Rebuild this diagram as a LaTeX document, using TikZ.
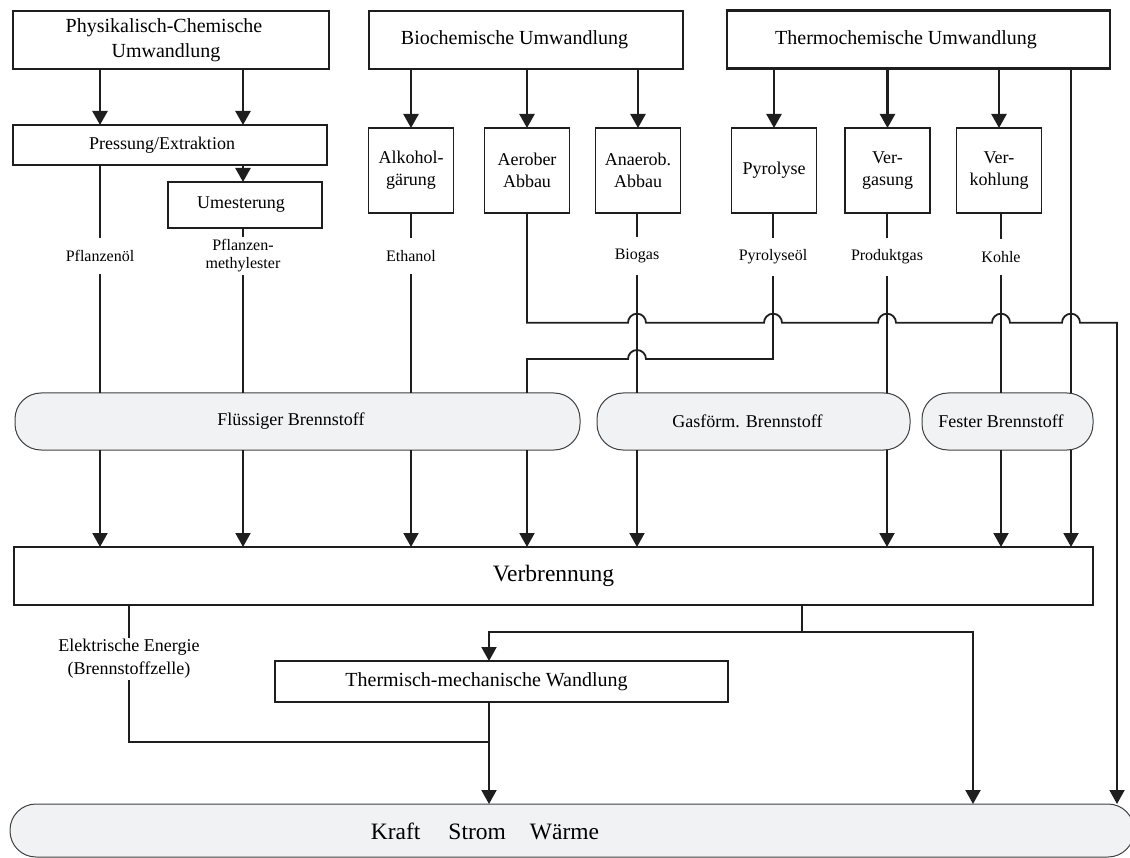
\documentclass[tikz,border=0pt]{standalone}
\usepackage{fontspec}
\setmainfont{Liberation Serif}
\usetikzlibrary{arrows.meta}
\definecolor{ink}{HTML}{1E1E1E}
\definecolor{pillfill}{HTML}{F1F2F4}
\begin{document}
\begin{tikzpicture}[x=1pt,y=-1pt,
  every node/.style={inner sep=0pt, outer sep=0pt},
  bigbox/.style={draw=ink, line width=2.8pt, minimum height=58pt, font=\fontsize{20}{25}\selectfont},
  smallbox/.style={draw=ink, line width=1.2pt, font=\fontsize{18}{22}\selectfont},
  sq/.style={smallbox, minimum width=85pt, minimum height=85pt, align=center},
  pill/.style={draw=ink!85, line width=1pt, fill=pillfill, rounded corners=26pt, minimum height=57pt, font=\fontsize{18}{22}\selectfont},
  lab/.style={fill=white, font=\fontsize{16}{18}\selectfont, align=center, inner xsep=2pt, inner ysep=12pt},
  conn/.style={draw=ink, line width=1.8pt},
  tip/.style={-{Triangle[width=15pt,length=14pt]}},
  arr/.style={conn, line width=2.4pt, tip},
  arrb/.style={conn, line width=2pt, tip},
]
\useasboundingbox (0,0) rectangle (1130,858);
\clip (0,0) rectangle (1130,858);

% column / row coordinates
\coordinate (c1) at (100,0);
\coordinate (c2) at (243,0);
\coordinate (c3) at (411,0);
\coordinate (c4) at (527,0);
\coordinate (c5) at (637,0);
\coordinate (c6) at (773,0);
\coordinate (c7) at (887,0);
\coordinate (c8) at (1001,0);
\coordinate (c9) at (1071,0);
\coordinate (c10) at (1117,0);
\coordinate (c11) at (129,0);
\coordinate (c12) at (489,0);
\coordinate (c13) at (802,0);
\coordinate (c14) at (973,0);
\coordinate (r1) at (0,322.7);
\coordinate (r2) at (0,359);
\coordinate (r3) at (0,742);
\coordinate (r4) at (0,632);

% top boxes
\node[bigbox, minimum width=316pt, align=center] (pc) at (171,40) {\hspace*{-14pt}Physikalisch-Chemische\\\hspace*{-10pt}Umwandlung};
\node[bigbox, minimum width=314pt] (bio) at (526,40) {\hspace*{-23pt}Biochemische Umwandlung};
\node[bigbox, minimum width=383pt] (thermo) at (918.5,39.5) {\hspace*{-25pt}Thermochemische Umwandlung};

% process boxes
\node[smallbox, minimum width=314pt, minimum height=40pt] (press) at (170,145) {\hspace*{-16pt}Pressung/Extraktion};
\node[smallbox, minimum width=154pt, minimum height=46pt] (umest) at (245,205) {\hspace*{-8pt}Umesterung};
\node[sq] (alk) at (411,170.5) {Alkohol-\\gärung};
\node[sq] (aer) at (527,170.5) {Aerober\\Abbau};
\node[sq] (ana) at (638,170.5) {Anaerob.\\Abbau};
\node[sq] (pyr) at (774,170.5) {Pyrolyse};
\node[sq] (verg) at (887.5,170.5) {Ver-\\gasung};
\node[sq] (verk) at (999,170.5) {Ver-\\kohlung};

% fuel pills
\node[pill, minimum width=565pt] (fl) at (297.5,421.5) {\hspace*{-13pt}Flüssiger Brennstoff};
\node[pill, minimum width=313pt] (gas) at (753.5,421.5) {\hspace*{-12pt}Gasförm. Brennstoff};
\node[pill, minimum width=171pt] (fest) at (1007.5,421.5) {\hspace*{-13pt}Fester Brennstoff};

% combustion and conversion
\node[draw=ink, line width=2pt, minimum width=1079pt, minimum height=58pt, font=\fontsize{23.5}{28}\selectfont] (verb) at (553.5,576) {Verbrennung};
\node[smallbox, font=\fontsize{20}{24}\selectfont, minimum width=453pt, minimum height=41pt] (thm) at (501.5,681.5) {\hspace*{-30pt}Thermisch-mechanische Wandlung};

% output pill
\node[pill, minimum width=1124pt, minimum height=53pt] (kraft) at (572,830.5) {};
\node[font=\fontsize{23.5}{28}\selectfont] (kt) at (485,831) {Kraft\hspace{28pt}Strom\hspace{24pt}Wärme};

% arrows from top boxes
\draw[arr] (pc.south -| c1) -- (press.north -| c1);
\draw[arr] (pc.south -| c2) -- (press.north -| c2);
\draw[arr] (press.south -| c2) -- (umest.north -| c2);
\draw[arr] (bio.south -| alk.north) -- (alk.north);
\draw[arr] (bio.south -| aer.north) -- (aer.north);
\draw[arr] (bio.south -| ana.north) -- (ana.north);
\draw[arr] (thermo.south -| pyr.north) -- (pyr.north);
\draw[arr] (thermo.south -| verg.north) -- (verg.north);
\draw[arr] (thermo.south -| verk.north) -- (verk.north);

% product lines
\draw[conn] (press.south -| c1) -- (fl.north -| c1);
\draw[conn] (umest.south -| c2) -- (fl.north -| c2);
\draw[conn] (alk.south -| c3) -- (fl.north -| c3);
\draw[conn] (ana.south -| c5) -- (gas.north -| c5);
\draw[conn] (verg.south -| c7) -- (gas.north -| c7);
\draw[conn] (verk.south -| c8) -- (fest.north -| c8);
\draw[conn] (thermo.south -| c9) -- (fest.north -| c9);
\draw[conn] (pyr.south -| c6) -- (c6 |- r2) -- ([xshift=9pt]c5 |- r2)
  arc[start angle=0, end angle=-180, radius=9] -- (c4 |- r2) -- (fl.north -| c4);
\draw[conn, tip] (aer.south -| c4) -- (c4 |- r1)
  -- ([xshift=-9pt]c5 |- r1) arc[start angle=180, end angle=360, radius=9]
  -- ([xshift=-9pt]c6 |- r1) arc[start angle=180, end angle=360, radius=9]
  -- ([xshift=-9pt]c7 |- r1) arc[start angle=180, end angle=360, radius=9]
  -- ([xshift=-9pt]c8 |- r1) arc[start angle=180, end angle=360, radius=9]
  -- ([xshift=-9pt]c9 |- r1) arc[start angle=180, end angle=360, radius=9]
  -- (c10 |- r1) -- (kraft.north -| c10);

% labels on product lines
\node[lab] (lpo) at (100,256) {Pflanzenöl};
\node[lab, inner ysep=3pt] (lpm) at (243,256) {Pflanzen-\\methylester};
\node[lab] (leth) at (411,256) {Ethanol};
\node[lab] (lbio) at (637,256) {Biogas};
\node[lab] (lpyr) at (773,257) {Pyrolyseöl};
\node[lab] (lprod) at (887,257) {Produktgas};
\node[lab] (lkoh) at (1001,257) {Kohle};

% into combustion
\foreach \c in {c1,c2,c3,c4} \draw[arrb] (fl.south -| \c) -- (verb.north -| \c);
\foreach \c in {c5,c7} \draw[arrb] (gas.south -| \c) -- (verb.north -| \c);
\foreach \c in {c8,c9} \draw[arrb] (fest.south -| \c) -- (verb.north -| \c);

% bottom connections
\draw[conn] (verb.south -| c11) -- (c11 |- r3) -- (c12 |- r3);
\draw[arrb] (thm.south -| c12) -- (kraft.north -| c12);
\draw[conn] (verb.south -| c13) -- (c13 |- r4);
\draw[arrb] (c13 |- r4) -- (c12 |- r4) -- (thm.north -| c12);
\draw[arrb] (c13 |- r4) -- (c14 |- r4) -- (kraft.north -| c14);
\node[lab, font=\fontsize{18}{23}\selectfont, inner ysep=1pt] (lel) at (129,659) {Elektrische Energie\\(Brennstoffzelle)};
\end{tikzpicture}
\end{document}
